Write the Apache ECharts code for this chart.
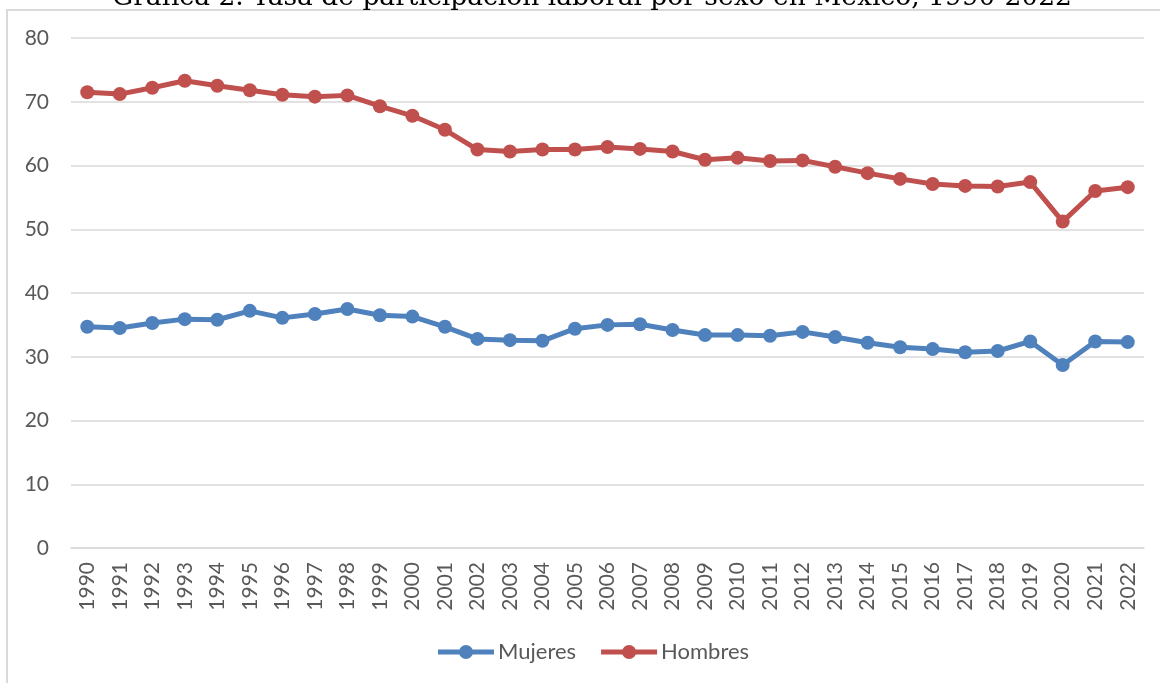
<!DOCTYPE html>
<html>
<head>
<meta charset="utf-8">
<script src="https://cdn.jsdelivr.net/npm/echarts@6/dist/echarts.min.js"></script>
<style>
  html, body { margin: 0; padding: 0; background: #fff; }
  #chart { width: 1160px; height: 683px; }
</style>
</head>
<body>
<div id="chart"></div>
<script>
// años y tasas (%)
var years = ['1990','1991','1992','1993','1994','1995','1996','1997','1998','1999',
  '2000','2001','2002','2003','2004','2005','2006','2007','2008','2009',
  '2010','2011','2012','2013','2014','2015','2016','2017','2018','2019',
  '2020','2021','2022'];
var mujeres = [34.7, 34.5, 35.3, 35.9, 35.8, 37.2, 36.1, 36.7, 37.5, 36.5,
  36.3, 34.7, 32.8, 32.6, 32.5, 34.4, 35.0, 35.1, 34.2, 33.4,
  33.4, 33.3, 33.9, 33.1, 32.2, 31.5, 31.2, 30.7, 30.9, 32.4,
  28.7, 32.4, 32.3];
var hombres = [71.5, 71.2, 72.2, 73.3, 72.5, 71.8, 71.1, 70.8, 71.0, 69.3,
  67.8, 65.6, 62.5, 62.2, 62.5, 62.5, 62.9, 62.6, 62.2, 60.9,
  61.2, 60.7, 60.8, 59.8, 58.8, 57.9, 57.1, 56.8, 56.7, 57.4,
  51.2, 56.0, 56.6];
var yTicks = [0, 10, 20, 30, 40, 50, 60, 70, 80];

var chart = echarts.init(document.getElementById('chart'));

var font = 'Lato';
var grey = '#595959';
// linea gruesa con circulo al centro, como en excel
var legendIcon = 'path://M0,4.5 L56,4.5 L56,9.5 L0,9.5 Z M21,7 A7,7 0 1,1 35,7 A7,7 0 1,1 21,7 Z';

function serie(name, data, color) {
  return {
    name: name,
    type: 'line',
    data: data,
    symbol: 'circle',
    symbolSize: 14,
    color: color,
    lineStyle: { width: 5, color: color },
    itemStyle: { color: color },
    emphasis: { disabled: true }
  };
}

chart.setOption({
  animation: false,
  title: {
    text: 'Gráfica 2. Tasa de participación laboral por sexo en México, 1990-2022',
    left: 107,
    top: -20,
    textStyle: { fontFamily: 'DejaVu Serif', fontSize: 26.5, fontWeight: 'normal', color: '#000' }
  },
  graphic: [{
    type: 'rect',
    shape: { x: 7, y: 10, width: 1200, height: 700 },
    style: { fill: 'none', stroke: '#D9D9D9', lineWidth: 2 },
    silent: true,
    z: 0
  }],
  legend: {
    data: [
      { name: 'Mujeres', icon: legendIcon },
      { name: 'Hombres', icon: legendIcon }
    ],
    bottom: 15,
    left: 433,
    itemWidth: 56,
    itemHeight: 14,
    itemGap: 25,
    textStyle: { fontFamily: font, fontSize: 22, color: grey, padding: [0, 0, 0, -1] }
  },
  grid: { left: 71, right: 16, top: 38, bottom: 135 },
  xAxis: {
    type: 'category',
    data: years,
    boundaryGap: true,
    axisLine: { show: true, lineStyle: { color: '#D9D9D9', width: 1.5 } },
    axisTick: { show: false },
    axisLabel: { rotate: 90, margin: 14, fontFamily: font, fontSize: 21, color: grey, interval: 0 }
  },
  yAxis: {
    type: 'value',
    min: yTicks[0],
    max: yTicks[yTicks.length - 1],
    interval: 10,
    axisLine: { show: false },
    axisTick: { show: false },
    splitLine: { lineStyle: { color: '#D9D9D9', width: 1.5 } },
    axisLabel: { margin: 22, fontFamily: font, fontSize: 21, color: grey }
  },
  series: [
    serie('Mujeres', mujeres, '#4F81BD'),
    serie('Hombres', hombres, '#C0504D')
  ]
});
</script>
</body>
</html>
